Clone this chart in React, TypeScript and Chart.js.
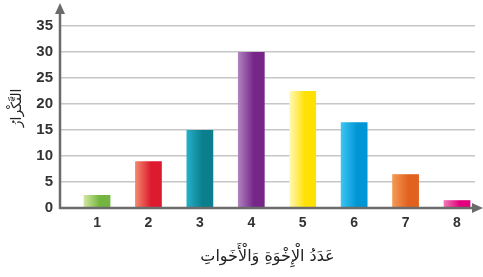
import React, { useEffect, useRef } from "react";
import { Chart, registerables } from "chart.js";

Chart.register(...registerables);

const categories = [1, 2, 3, 4, 5, 6, 7, 8];
const frequencies = [2.5, 9, 15, 30, 22.5, 16.5, 6.5, 1.5];
const yTicks = [0, 5, 10, 15, 20, 25, 30, 35];
const barColors: [string, string][] = [
  ["#d3e8a0", "#74b540"],
  ["#f58a6e", "#dd1a2e"],
  ["#24b0c8", "#0b7f8e"],
  ["#b083c0", "#762588"],
  ["#fff9b8", "#ffe000"],
  ["#3cc6f2", "#0096d6"],
  ["#f49a55", "#e0621e"],
  ["#f27ab8", "#e2007c"],
];
const xTitle = "عَدَدُ الْإِخْوَةِ وَالْأَخَواتِ";
const yTitle = "التَّكْرارُ";

const BAR_PCT = 0.52;
const AXIS_COLOR = "#6b6b6b";

const axesPlugin = {
  id: "arrowAxes",
  afterDraw(chart: any) {
    const { ctx, chartArea } = chart;
    const { left, right, top, bottom } = chartArea;
    ctx.save();
    ctx.strokeStyle = AXIS_COLOR;
    ctx.fillStyle = AXIS_COLOR;
    ctx.lineWidth = 2.5;
    // y axis
    ctx.beginPath();
    ctx.moveTo(left, bottom + 1);
    ctx.lineTo(left, top - 16);
    ctx.stroke();
    ctx.beginPath();
    ctx.moveTo(left, top - 23);
    ctx.lineTo(left - 5, top - 12);
    ctx.lineTo(left + 5, top - 12);
    ctx.closePath();
    ctx.fill();
    // x axis
    ctx.beginPath();
    ctx.moveTo(left - 1, bottom);
    ctx.lineTo(right + 2, bottom);
    ctx.stroke();
    ctx.beginPath();
    ctx.moveTo(right + 8, bottom);
    ctx.lineTo(right - 3, bottom - 5);
    ctx.lineTo(right - 3, bottom + 5);
    ctx.closePath();
    ctx.fill();
    // y title (rotated)
    ctx.translate(17, top + (bottom - top) * 0.45);
    ctx.rotate(-Math.PI / 2);
    ctx.fillStyle = "#222";
    ctx.font = "14px 'DejaVu Sans'";
    ctx.textAlign = "center";
    ctx.textBaseline = "middle";
    ctx.fillText(yTitle, 0, 0);
    ctx.restore();
  },
};

export default function App() {
  const canvasRef = useRef<HTMLCanvasElement | null>(null);

  useEffect(() => {
    document.body.style.margin = "0";
    const canvas = canvasRef.current;
    if (!canvas) return;
    const chart = new Chart(canvas, {
      type: "bar",
      data: {
        datasets: [
          {
            data: categories.map((c, i) => ({ x: c, y: frequencies[i] })),
            barPercentage: BAR_PCT,
            categoryPercentage: 1,
            backgroundColor: (c: any) => {
              const i = c.dataIndex ?? 0;
              const [light, dark] = barColors[i % barColors.length];
              const xs = c.chart.scales?.x;
              if (!xs || !c.chart.chartArea) return dark;
              const px = xs.getPixelForValue(categories[i]);
              const half =
                ((xs.getPixelForValue(1) - xs.getPixelForValue(0)) * BAR_PCT) / 2;
              const g = c.chart.ctx.createLinearGradient(px - half, 0, px + half, 0);
              g.addColorStop(0, light);
              g.addColorStop(0.6, dark);
              g.addColorStop(1, dark);
              return g;
            },
            borderWidth: 0,
          },
        ],
      },
      options: {
        animation: false,
        responsive: false,
        maintainAspectRatio: false,
        layout: { padding: { left: 0, right: 8, top: 26, bottom: 11 } },
        plugins: {
          legend: { display: false },
          tooltip: { enabled: false },
        },
        scales: {
          x: {
            type: "linear",
            offset: false,
            min: 0.28,
            max: 8.35,
            grid: { display: false, drawTicks: false },
            border: { display: false },
            afterBuildTicks: (scale: any) => {
              scale.ticks = categories.map((v) => ({ value: v }));
            },
            afterFit: (scale: any) => {
              scale.height = 58;
            },
            ticks: {
              color: "#333",
              font: { family: "Liberation Sans", size: 14, weight: "bold" },
              padding: 7,
              callback: (v: any) => String(v),
            },
            title: {
              display: true,
              text: xTitle,
              color: "#222",
              font: { family: "DejaVu Sans", size: 16 },
              padding: { top: 6, bottom: 0 },
            },
          },
          y: {
            min: 0,
            max: 35,
            z: 1,
            afterBuildTicks: (scale: any) => {
              scale.ticks = yTicks.map((v) => ({ value: v }));
            },
            afterFit: (scale: any) => {
              scale.width = 60;
            },
            grid: {
              color: (c: any) => (c.tick && c.tick.value === 0 ? "rgba(0,0,0,0)" : "#c6c6c6"),
              lineWidth: 1.5,
              drawTicks: false,
            },
            border: { display: false },
            ticks: {
              color: "#333",
              font: { family: "Liberation Sans", size: 15, weight: "bold" },
              padding: 7,
            },
            title: { display: false },
          },
        },
      } as any,
      plugins: [axesPlugin],
    });
    return () => chart.destroy();
  }, []);

  return (
    <div style={{ width: 483, height: 277, background: "#fff" }}>
      <canvas ref={canvasRef} width={483} height={277} />
    </div>
  );
}
